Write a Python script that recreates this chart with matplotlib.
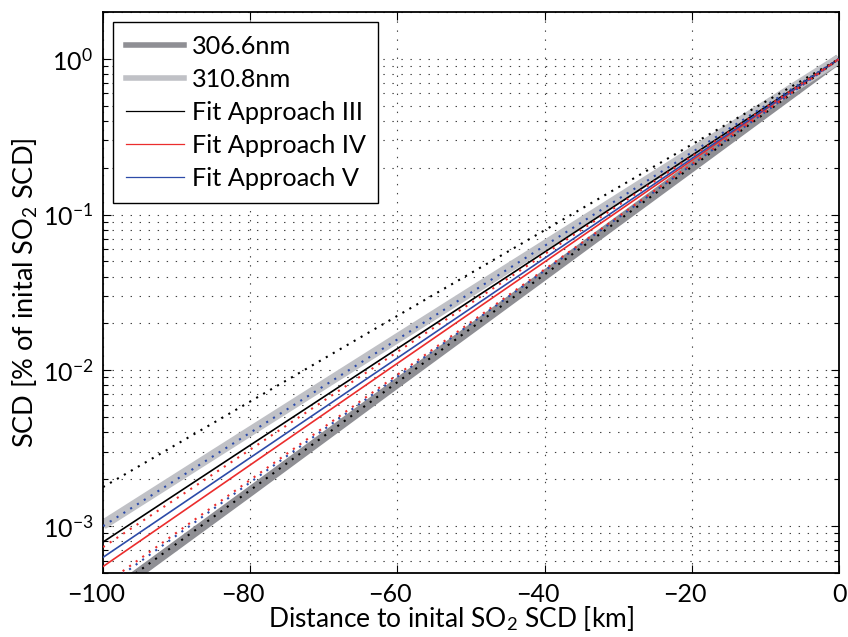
import matplotlib
matplotlib.use("Agg")
import matplotlib.pyplot as plt
import matplotlib.transforms as mtransforms
from matplotlib.lines import Line2D
from matplotlib.ticker import LogLocator, FixedLocator, NullFormatter

plt.rcParams['font.family'] = ['Lato', 'DejaVu Sans']
plt.rcParams['mathtext.fontset'] = 'custom'
plt.rcParams['mathtext.rm'] = 'Lato'
plt.rcParams['mathtext.it'] = 'Lato:italic'
plt.rcParams['lines.scale_dashes'] = False

# distance to initial SO2 SCD [km]
distance = [-100, -80, -60, -40, -20, 0]

# SCD relative to initial value
scd_306 = [3.4e-4, 1.67e-3, 8.3e-3, 0.0409, 0.202, 1.0]
scd_310 = [1.02e-3, 4.06e-3, 0.0161, 0.0637, 0.252, 1.0]
fit3 = [7.9e-4, 3.31e-3, 0.0138, 0.0575, 0.240, 1.0]
fit4 = [5.5e-4, 2.47e-3, 0.0111, 0.0497, 0.223, 1.0]
fit5 = [6.3e-4, 2.75e-3, 0.0120, 0.0525, 0.229, 1.0]

# dotted curves (fits to the single wavelengths)
fit3_310 = [1.78e-3, 6.31e-3, 0.0224, 0.0794, 0.282, 1.0]
fit3_306 = [3.5e-4, 1.70e-3, 8.4e-3, 0.0413, 0.203, 1.0]
fit5_310 = [1.0e-3, 3.98e-3, 0.0158, 0.0631, 0.251, 1.0]
fit5_306 = [3.98e-4, 1.91e-3, 9.12e-3, 0.0437, 0.209, 1.0]
fit4_310 = [7.33e-4, 3.10e-3, 0.01315, 0.0557, 0.236, 1.0]
fit4_306 = [4.17e-4, 1.98e-3, 9.38e-3, 0.0445, 0.211, 1.0]

labels = ['306.6nm', '310.8nm', 'Fit Approach III', 'Fit Approach IV', 'Fit Approach V']
xticks = [-100, -80, -60, -40, -20, 0]

c_dark = '#8f8f94'
c_light = '#c0c1c6'
c_red = '#eb2d2d'
c_blue = '#2d4ba8'

fig = plt.figure(figsize=(8.48, 6.37), dpi=100)
ax = fig.add_axes([0.1215, 0.1005, 0.868, 0.8807])

ax.semilogy(distance, scd_306, color=c_dark, lw=7, solid_capstyle='butt', zorder=2)
ax.semilogy(distance, scd_310, color=c_light, lw=7, solid_capstyle='butt', zorder=2)
ax.semilogy(distance, fit3, color='black', lw=1.2, zorder=3)
ax.semilogy(distance, fit4, color=c_red, lw=1.2, zorder=3)
ax.semilogy(distance, fit5, color=c_blue, lw=1.2, zorder=3)

dots = (0, (1.5, 4.3))
for vals, col in [(fit3_310, 'black'), (fit3_306, 'black'),
                  (fit5_310, c_blue), (fit5_306, c_blue),
                  (fit4_310, c_red), (fit4_306, c_red)]:
    ax.semilogy(distance, vals, color=col, lw=1.5, linestyle=dots,
                dash_capstyle='butt', zorder=4)

ax.set_xlim(-100, 0)
ax.set_ylim(5e-4, 2)
ax.xaxis.set_major_locator(FixedLocator(xticks))
ax.set_xticklabels([('\u2212%d' % -t) if t < 0 else '0' for t in xticks])
ax.yaxis.set_major_locator(LogLocator(base=10))
ax.yaxis.set_minor_locator(LogLocator(base=10, subs=range(2, 10)))
ax.yaxis.set_minor_formatter(NullFormatter())
ax.set_yticks([1e-3, 1e-2, 1e-1, 1])
ax.set_yticklabels([r'$10^{-3}$', r'$10^{-2}$', r'$10^{-1}$', r'$10^{0}$'])

ax.tick_params(which='both', direction='in', top=True, right=True, labelsize=18,
               width=0.8, pad=7)
ax.tick_params(which='major', length=6)
ax.tick_params(which='minor', length=3.5)
for s in ax.spines.values():
    s.set_linewidth(1.3)

# matlab centres the digits on the tick, the minus sign hangs out to the left
shift = mtransforms.ScaledTranslation(-5.2 / 72, 0, fig.dpi_scale_trans)
for lab, t in zip(ax.get_xticklabels(), xticks):
    if t < 0:
        lab.set_transform(lab.get_transform() + shift)

gdots = (0, (1, 5.5))
ax.grid(True, which='major', axis='x', color='0.25', lw=0.8, linestyle=gdots)
ax.grid(True, which='both', axis='y', color='0.25', lw=0.8, linestyle=gdots)
ax.set_axisbelow(True)

ax.set_xlabel(r'Distance to inital SO$_2$ SCD [km]', fontsize=19, labelpad=-1)
ax.xaxis.label.set_x(0.473)
ax.set_ylabel(r'SCD [% of inital SO$_2$ SCD]', fontsize=19.5, labelpad=2)

handles = [Line2D([], [], color=c_dark, lw=4),
           Line2D([], [], color=c_light, lw=4),
           Line2D([], [], color='black', lw=0.9),
           Line2D([], [], color=c_red, lw=0.9),
           Line2D([], [], color=c_blue, lw=0.9)]
leg = ax.legend(handles, labels, loc='upper left', bbox_to_anchor=(0.0, 1.0),
                fontsize=18.2, fancybox=False, framealpha=1, edgecolor='black',
                handlelength=2.3, handletextpad=0.3, labelspacing=0.4,
                borderpad=0.5, borderaxespad=0.4)
leg.get_frame().set_linewidth(1.0)

fig.savefig('out.png', dpi=100)
